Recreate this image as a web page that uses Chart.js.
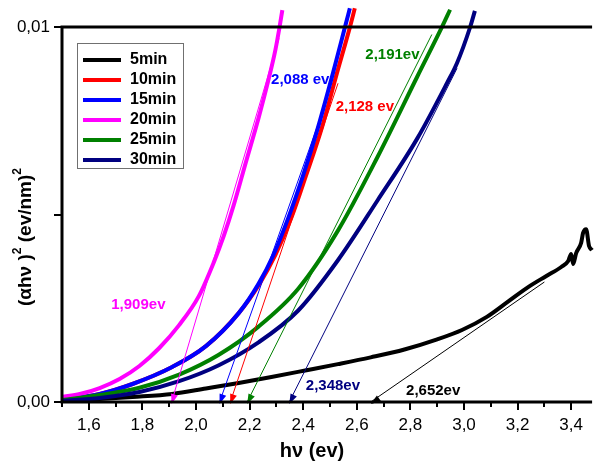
<!DOCTYPE html>
<html lang="fr">
<head>
<meta charset="UTF-8">
<title>Tauc plot</title>
<script src="https://cdn.jsdelivr.net/npm/chart.js"></script>
<style>
  body { margin: 0; background: #fff; }
</style>
</head>
<body>
<canvas id="chart" width="596" height="462"></canvas>
<script>
// deposition times and curve colours
const labels = ['5min', '10min', '15min', '20min', '25min', '30min'];
const colors = ['#000000', '#ff0000', '#0000ff', '#ff00ff', '#008000', '#000080'];

// (alpha h nu)^2 vs h nu for each film
const hv5 = [1.5, 1.6407, 1.763, 1.9111, 2.037, 2.1593, 2.2815, 2.4074, 2.5296, 2.6519, 2.7778, 2.9, 2.9926, 3.0852, 3.1667, 3.2407, 3.3074, 3.363, 3.3889, 3.4, 3.4074, 3.4185, 3.437, 3.4444, 3.4556, 3.4667, 3.4778];
const ah5 = [0.0000267, 0.00008, 0.000133, 0.000213, 0.00036, 0.000507, 0.000667, 0.00084, 0.00101, 0.00119, 0.0014, 0.00167, 0.00192, 0.00227, 0.00269, 0.00307, 0.00336, 0.0036, 0.00376, 0.00395, 0.00368, 0.00397, 0.00424, 0.00451, 0.00461, 0.00416, 0.00405];

const hv10 = [1.5, 1.6407, 1.763, 1.9111, 2.037, 2.1593, 2.237, 2.2963, 2.3556, 2.4111, 2.4704, 2.5259, 2.5741, 2.5926];
const ah10 = [0.0000533, 0.000213, 0.00048, 0.000933, 0.00149, 0.00237, 0.00315, 0.00392, 0.00491, 0.00605, 0.00733, 0.00877, 0.00999, 0.0105];

const hv15 = [1.5, 1.6407, 1.763, 1.9111, 2.037, 2.1593, 2.2333, 2.2889, 2.3444, 2.4, 2.4556, 2.5111, 2.5556, 2.5741];
const ah15 = [0.0000533, 0.000213, 0.00048, 0.000933, 0.00149, 0.00237, 0.00315, 0.00392, 0.00491, 0.00605, 0.00733, 0.00877, 0.00999, 0.0105];

const hv20 = [1.5, 1.5667, 1.6407, 1.7148, 1.7889, 1.863, 1.937, 2.0111, 2.0667, 2.1037, 2.1407, 2.1852, 2.2333, 2.2704, 2.2963, 2.3111, 2.3222];
const ah20 = [0.000133, 0.000213, 0.000373, 0.000613, 0.00096, 0.00144, 0.00205, 0.00283, 0.00373, 0.00443, 0.00525, 0.00637, 0.00757, 0.00859, 0.00939, 0.00997, 0.01045];

const hv25 = [1.5, 1.6407, 1.7889, 1.937, 2.0852, 2.2333, 2.3815, 2.5296, 2.6778, 2.8259, 2.9185, 2.9481];
const ah25 = [0.0000533, 0.000187, 0.000379, 0.000731, 0.00126, 0.00201, 0.00302, 0.00457, 0.00654, 0.00868, 0.01001, 0.01046];

const hv30 = [1.5, 1.6407, 1.7889, 1.937, 2.0852, 2.2333, 2.3815, 2.5296, 2.6778, 2.8259, 2.937, 2.9741, 3.0222, 3.0407];
const ah30 = [0.0000267, 0.000107, 0.000267, 0.000555, 0.000981, 0.00159, 0.00244, 0.00378, 0.00538, 0.00703, 0.00851, 0.00904, 0.00998, 0.01043];

const hvAll = [hv5, hv10, hv15, hv20, hv25, hv30];
const ahAll = [ah5, ah10, ah15, ah20, ah25, ah30];

// optical gaps (x-intercepts of the linear fits) and the upper end of each fit line
const gapValues = [2.652, 2.128, 2.088, 1.909, 2.191, 2.348];
const gapSuffix = ['ev', ' ev', ' ev', 'ev', 'ev', 'ev'];
const fitEndX = [3.30, 2.530, 2.485, 2.31, 2.88, 2.974];
const fitEndY = [0.0032, 0.0085, 0.0080, 0.0097, 0.0098, 0.0089];
// where the gap values are written (data coordinates)
const noteX = [2.885, 2.630, 2.389, 1.785, 2.733, 2.511];
const noteY = [0.000293, 0.00787, 0.00859, 0.00259, 0.00925, 0.000427];

// axis ticks
const xMajor = [1.6, 1.8, 2.0, 2.2, 2.4, 2.6, 2.8, 3.0, 3.2, 3.4];
const xTickLabels = ['1,6', '1,8', '2,0', '2,2', '2,4', '2,6', '2,8', '3,0', '3,2', '3,4'];
const xMinor = [1.5, 1.7, 1.9, 2.1, 2.3, 2.5, 2.7, 2.9, 3.1, 3.3];
const yTickValues = [0, 0.005, 0.01];
const yTickLabels = ['0,00', '', '0,01'];

const FONT = 'Liberation Sans, Arial, sans-serif';
Chart.defaults.font.family = FONT;

const datasets = [];
// fit lines first so they sit on top of the curves
gapValues.forEach((g, i) => {
  datasets.push({
    label: 'fit ' + labels[i],
    data: [{x: g, y: 0}, {x: fitEndX[i], y: fitEndY[i]}],
    borderColor: colors[i],
    borderWidth: 1,
    pointRadius: 0,
    clip: false,
    order: 0
  });
});
labels.forEach((name, i) => {
  datasets.push({
    label: name,
    data: hvAll[i].map((v, k) => ({x: v, y: ahAll[i][k]})),
    borderColor: colors[i],
    borderWidth: 4,
    pointRadius: 0,
    cubicInterpolationMode: 'monotone',
    clip: false,
    order: 10 - i
  });
});

// draws text pieces in a row, raising the ones marked as exponents
function drawPieces(ctx, pieces, x, y, size) {
  const widths = pieces.map(p => {
    ctx.font = 'bold ' + (p.sup ? Math.round(size * 0.62) : size) + 'px ' + FONT;
    return ctx.measureText(p.t).width;
  });
  let cx = x - widths.reduce((s, w) => s + w, 0) / 2;
  ctx.textAlign = 'left';
  pieces.forEach((p, i) => {
    ctx.font = 'bold ' + (p.sup ? Math.round(size * 0.62) : size) + 'px ' + FONT;
    ctx.fillText(p.t, cx, p.sup ? y - size * 0.45 : y);
    cx += widths[i];
  });
}

const decor = {
  id: 'decor',
  afterDatasetsDraw(chart) {
    const {ctx, chartArea: a, scales: {x, y}} = chart;
    ctx.save();

    // arrow heads at the intercepts
    gapValues.forEach((g, i) => {
      const px = x.getPixelForValue(g), py = y.getPixelForValue(0) + 2;
      const ex = x.getPixelForValue(fitEndX[i]), ey = y.getPixelForValue(fitEndY[i]);
      const ang = Math.atan2(py - ey, px - ex);
      const L = 10, W = 3.5;
      const bx = px - L * Math.cos(ang), by = py - L * Math.sin(ang);
      ctx.fillStyle = colors[i];
      ctx.beginPath();
      ctx.moveTo(px, py);
      ctx.lineTo(bx + W * Math.sin(ang), by - W * Math.cos(ang));
      ctx.lineTo(bx - W * Math.sin(ang), by + W * Math.cos(ang));
      ctx.closePath();
      ctx.fill();
    });

    // gap values
    ctx.font = 'bold 15px ' + FONT;
    ctx.textAlign = 'center';
    ctx.textBaseline = 'middle';
    gapValues.forEach((g, i) => {
      ctx.fillStyle = colors[i];
      ctx.fillText(g.toFixed(3).replace('.', ',') + gapSuffix[i],
        x.getPixelForValue(noteX[i]), y.getPixelForValue(noteY[i]));
    });

    // axes frame (left, bottom, top)
    ctx.strokeStyle = '#000';
    ctx.lineWidth = 3;
    ctx.beginPath();
    ctx.moveTo(a.left, a.bottom + 1.5);
    ctx.lineTo(a.left, a.top);
    ctx.moveTo(a.left - 1.5, a.top);
    ctx.lineTo(a.right, a.top);
    ctx.moveTo(a.left - 1.5, a.bottom);
    ctx.lineTo(a.right, a.bottom);
    ctx.stroke();

    // ticks
    ctx.lineWidth = 2;
    ctx.beginPath();
    xMajor.forEach(v => {
      const px = Math.round(x.getPixelForValue(v));
      ctx.moveTo(px, a.bottom); ctx.lineTo(px, a.bottom + 8);
    });
    xMinor.forEach(v => {
      const px = Math.round(x.getPixelForValue(v));
      ctx.moveTo(px, a.bottom); ctx.lineTo(px, a.bottom + 5);
    });
    yTickValues.forEach(v => {
      const py = Math.round(y.getPixelForValue(v));
      ctx.moveTo(a.left - 8, py); ctx.lineTo(a.left, py);
    });
    ctx.stroke();

    // legend
    const lx = a.left + 15, ly = a.top + 16;
    ctx.strokeStyle = '#707070';
    ctx.lineWidth = 1;
    ctx.strokeRect(lx + 0.5, ly + 0.5, 106, 125);
    ctx.font = 'bold 16px ' + FONT;
    ctx.textAlign = 'left';
    labels.forEach((name, i) => {
      const ry = ly + 17 + i * 20;
      ctx.strokeStyle = colors[i];
      ctx.lineWidth = 4;
      ctx.beginPath();
      ctx.moveTo(lx + 6, ry); ctx.lineTo(lx + 44, ry);
      ctx.stroke();
      ctx.fillStyle = '#000';
      ctx.fillText(name, lx + 53, ry);
    });

    // axis titles
    ctx.fillStyle = '#000';
    ctx.textAlign = 'center';
    ctx.font = 'bold 20px ' + FONT;
    ctx.fillText('h\u03bd (ev)', a.left + 250, 451);
    ctx.translate(26, 237);
    ctx.rotate(-Math.PI / 2);
    drawPieces(ctx, [
      {t: '(\u03b1h\u03bd )'}, {t: '2', sup: true},
      {t: ' (ev/nm)'}, {t: '2', sup: true}
    ], 0, 0, 19);
    ctx.restore();
  }
};

new Chart(document.getElementById('chart'), {
  type: 'line',
  data: {datasets},
  options: {
    responsive: false,
    animation: false,
    layout: {padding: {top: 27, right: 0, left: 0, bottom: 0}},
    plugins: {legend: {display: false}, tooltip: {enabled: false}},
    scales: {
      x: {
        type: 'linear',
        min: 1.5,
        max: 3.478,
        afterBuildTicks: s => { s.ticks = xMajor.map(v => ({value: v})); },
        afterFit: s => { s.height = 60; },
        grid: {display: false, drawTicks: false},
        border: {display: false},
        ticks: {
          autoSkip: false,
          maxRotation: 0,
          padding: 13,
          color: '#000',
          font: {size: 17},
          callback: (v, i) => xTickLabels[i]
        }
      },
      y: {
        min: 0,
        max: 0.01,
        afterBuildTicks: s => { s.ticks = yTickValues.map(v => ({value: v})); },
        afterFit: s => { s.width = 62; },
        grid: {display: false, drawTicks: false},
        border: {display: false},
        ticks: {
          padding: 12,
          color: '#000',
          font: {size: 17},
          callback: (v, i) => yTickLabels[i]
        }
      }
    }
  },
  plugins: [decor]
});
</script>
</body>
</html>
